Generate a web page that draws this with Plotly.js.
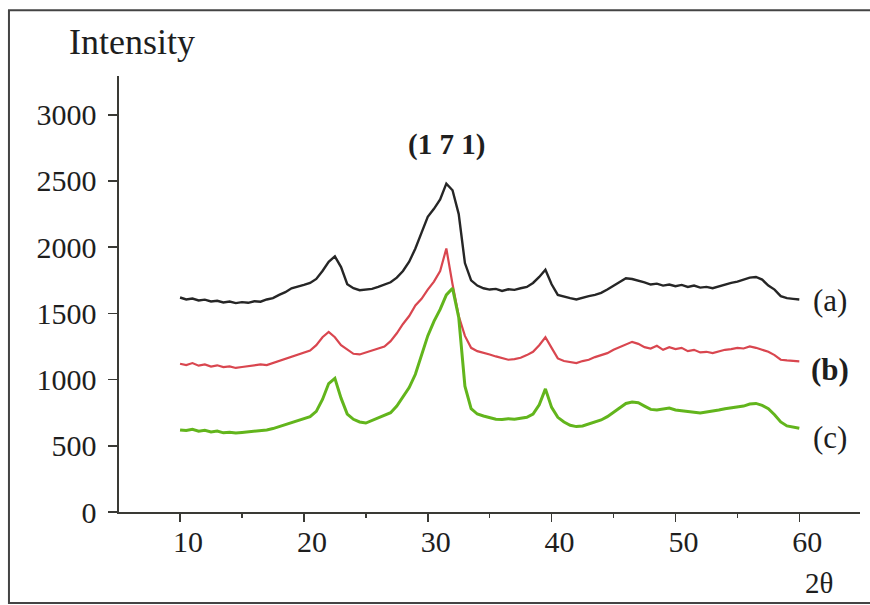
<!DOCTYPE html>
<html>
<head>
<meta charset="utf-8">
<script src="https://cdn.plot.ly/plotly-3.0.1.min.js"></script>
<style>
html,body{margin:0;padding:0;background:#fff;}
#chart{width:870px;height:605px;}
</style>
</head>
<body>
<div id="chart"></div>
<script>
// 2-theta positions (degrees)
const twoTheta = [10,10.5,11,11.5,12,12.5,13,13.5,14,14.5,15,15.5,16,16.5,17,17.5,18,18.5,19,19.5,
  20,20.5,21,21.5,22,22.5,23,23.5,24,24.5,25,25.5,26,26.5,27,27.5,28,28.5,29,29.5,
  30,30.5,31,31.5,32,32.5,33,33.5,34,34.5,35,35.5,36,36.5,37,37.5,38,38.5,39,39.5,
  40,40.5,41,41.5,42,42.5,43,43.5,44,44.5,45,45.5,46,46.5,47,47.5,48,48.5,49,49.5,
  50,50.5,51,51.5,52,52.5,53,53.5,54,54.5,55,55.5,56,56.5,57,57.5,58,58.5,59,59.5,60];

// Series (a) black
const seriesA = [1620,1605,1612,1598,1604,1590,1595,1583,1590,1578,1585,1580,1592,1588,1605,1615,1640,1660,1690,1700,
  1715,1730,1760,1820,1890,1930,1850,1720,1690,1675,1680,1685,1700,1715,1735,1770,1820,1890,1990,2110,
  2230,2290,2360,2480,2430,2250,1880,1750,1710,1690,1680,1685,1670,1682,1678,1690,1700,1730,1775,1830,
  1720,1640,1625,1615,1605,1620,1630,1640,1655,1680,1710,1740,1765,1760,1750,1735,1718,1725,1710,1718,
  1705,1715,1700,1710,1695,1700,1690,1705,1715,1730,1740,1755,1770,1775,1755,1710,1680,1630,1615,1610,1605];

// Series (b) red
const seriesB = [1120,1110,1125,1105,1115,1098,1108,1095,1100,1088,1095,1100,1105,1115,1110,1125,1140,1160,1170,1190,
  1200,1220,1260,1320,1360,1320,1260,1225,1195,1190,1205,1220,1235,1250,1290,1350,1420,1480,1560,1610,
  1680,1740,1820,1990,1720,1480,1330,1240,1215,1205,1190,1175,1160,1150,1155,1165,1185,1210,1260,1320,
  1240,1160,1140,1130,1125,1140,1150,1170,1185,1200,1225,1245,1265,1285,1270,1245,1235,1255,1225,1245,
  1230,1240,1215,1225,1205,1210,1200,1215,1225,1230,1240,1235,1250,1240,1225,1210,1185,1150,1145,1140,1138];

// Series (c) green
const seriesC = [620,615,625,610,618,605,612,598,603,596,600,605,608,615,620,630,645,660,675,690,
  705,720,760,850,970,1010,860,740,700,680,672,690,710,730,750,800,870,940,1040,1180,
  1330,1440,1530,1640,1690,1470,950,780,740,725,710,700,698,705,700,710,715,740,810,930,
  790,715,680,655,645,650,665,675,695,720,755,790,820,830,825,800,775,770,780,785,
  770,765,760,755,748,755,760,770,780,785,795,800,815,820,805,780,735,680,650,640,632];

const seriesLabels = ['(a)','(b)','(c)'];
const labelY = [1600,1080,566];
const peakLabel = '(1 7 1)';
const xTickVals = [10,20,30,40,50,60];
const yTickVals = [0,500,1000,1500,2000,2500,3000];

const serif = 'Liberation Serif, Times New Roman, serif';
const txt = '#1e1e1e';

const traces = [
  {x: twoTheta, y: seriesA, mode:'lines', line:{color:'#262626', width:2.4}, hoverinfo:'skip'},
  {x: twoTheta, y: seriesB, mode:'lines', line:{color:'#d9464f', width:2.2}, hoverinfo:'skip'},
  {x: twoTheta, y: seriesC, mode:'lines', line:{color:'#62b51c', width:3}, hoverinfo:'skip'}
];

const annotations = [
  {text:'Intensity', xref:'paper', yref:'paper', x:0.0176, y:1.078, xanchor:'center', yanchor:'middle', showarrow:false, font:{family:serif, size:36, color:txt}},
  {text:'2θ', xref:'paper', yref:'paper', x:0.945, y:-0.163, xanchor:'center', yanchor:'middle', showarrow:false, font:{family:serif, size:29, color:txt}},
  {text:'<b>'+peakLabel+'</b>', xref:'x', yref:'y', x:31.5, y:2779, xanchor:'center', yanchor:'middle', showarrow:false, font:{family:serif, size:29, color:txt}},
];
seriesLabels.forEach((s,i)=>{
  annotations.push({text: i===1 ? '<b>'+s+'</b>' : s, xref:'x', yref:'y', x:62.5, y:labelY[i], xanchor:'center', yanchor:'middle', showarrow:false, font:{family:serif, size:31, color:txt}});
});

const layout = {
  width:870, height:605,
  margin:{l:119, r:10, t:76, b:93},
  paper_bgcolor:'#fff', plot_bgcolor:'#fff',
  showlegend:false,
  font:{family:serif, color:txt},
  xaxis:{
    range:[5.07, 64.9], showgrid:false, zeroline:false,
    showline:true, linecolor:'#3a3a35', linewidth:1.6,
    ticks:'outside', ticklen:8, tickwidth:1.6, tickcolor:'#3a3a35',
    tickvals:xTickVals, ticklabelshift:8, ticklabelstandoff:-6,
    minor:{dtick:5, tick0:0, ticks:'outside', ticklen:4, tickwidth:1.6, tickcolor:'#3a3a35', showgrid:false},
    tickfont:{family:serif, size:30, color:txt}
  },
  yaxis:{
    range:[0, 3293], showgrid:false, zeroline:false,
    showline:true, linecolor:'#3a3a35', linewidth:1.6,
    ticks:'outside', ticklen:9, tickwidth:1.6, tickcolor:'#3a3a35',
    tickvals:yTickVals, ticklabelstandoff:6,
    tickfont:{family:serif, size:30, color:txt}
  },
  annotations: annotations,
  shapes:[
    {type:'rect', xref:'paper', yref:'paper', x0:-0.1485, x1:1.2, y0:-0.209, y1:1.151, line:{color:'#444', width:2}, fillcolor:'rgba(0,0,0,0)'}
  ]
};

Plotly.newPlot('chart', traces, layout, {staticPlot:true, displayModeBar:false});
</script>
</body>
</html>
